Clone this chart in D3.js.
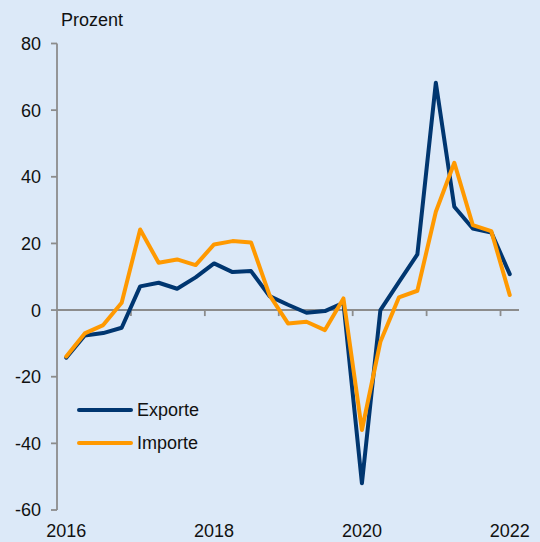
<!DOCTYPE html>
<html>
<head>
<meta charset="utf-8">
<script src="https://cdn.jsdelivr.net/npm/d3@7"></script>
<style>
    body { margin: 0; background: #dce9f8; }
    svg { display: block; font-family: "Liberation Sans", Arial, sans-serif; }
</style>
</head>
<body>
<script>
// Quartale 2016Q1 - 2022Q1
const quarters = [
    "2016Q1", "2016Q2", "2016Q3", "2016Q4",
    "2017Q1", "2017Q2", "2017Q3", "2017Q4",
    "2018Q1", "2018Q2", "2018Q3", "2018Q4",
    "2019Q1", "2019Q2", "2019Q3", "2019Q4",
    "2020Q1", "2020Q2", "2020Q3", "2020Q4",
    "2021Q1", "2021Q2", "2021Q3", "2021Q4",
    "2022Q1"
];

const exporte = [-14.3, -7.6, -6.9, -5.3, 7.1, 8.2, 6.4, 9.8, 14.0, 11.4, 11.7, 4.2, 1.6,
    -0.8, -0.3, 2.2, -52, 0, 8.4, 16.7, 68.2, 31, 24.5, 23.3, 10.8];
const importe = [-13.9, -7, -4.5, 2.2, 24.2, 14.2, 15.2, 13.5, 19.7, 20.7, 20.3, 4.5, -4,
    -3.5, -6, 3.5, -36, -9.5, 3.8, 5.8, 29.5, 44.2, 25.5, 23.7, 4.5];

const yTicks = [80, 60, 40, 20, 0, -20, -40, -60];
const xLabels = ["2016Q1", "2018Q1", "2020Q1", "2022Q1"];
const yearTicks = ["2017Q1", "2018Q1", "2019Q1", "2020Q1", "2021Q1", "2022Q1"];

const series = [
    { name: "Exporte", values: exporte, color: "#003670" },
    { name: "Importe", values: importe, color: "#ff9900" }
];

const W = 540, H = 542;
const axisColor = "#8c8c8c";

const svg = d3.select("body").append("svg")
    .attr("width", W)
    .attr("height", H);

svg.append("rect").attr("width", W).attr("height", H).attr("fill", "#dce9f8");

const x = d3.scaleBand()
    .domain(quarters)
    .range([57, 519]);

const y = d3.scaleLinear()
    .domain([-60, 80])
    .range([510, 43.5]);

// y-Achse
svg.append("line")
    .attr("x1", 57).attr("x2", 57)
    .attr("y1", y(80)).attr("y2", y(-60))
    .attr("stroke", axisColor).attr("stroke-width", 1.8);

svg.selectAll(".ytick")
    .data(yTicks)
    .enter()
    .append("line")
    .attr("x1", 51).attr("x2", 57)
    .attr("y1", d => y(d)).attr("y2", d => y(d))
    .attr("stroke", axisColor).attr("stroke-width", 1.8);

svg.selectAll(".ylabel")
    .data(yTicks)
    .enter()
    .append("text")
    .attr("x", 41)
    .attr("y", d => y(d))
    .attr("dy", "0.36em")
    .attr("text-anchor", "end")
    .attr("font-size", 18)
    .attr("fill", "#111")
    .text(d => d);

svg.append("text")
    .attr("x", 61).attr("y", 26)
    .attr("font-size", 18)
    .attr("fill", "#111")
    .text("Prozent");

// x-Achse auf der Nulllinie
svg.append("line")
    .attr("x1", 57).attr("x2", 519)
    .attr("y1", y(0)).attr("y2", y(0))
    .attr("stroke", axisColor).attr("stroke-width", 2);

svg.selectAll(".xtick")
    .data(yearTicks)
    .enter()
    .append("line")
    .attr("x1", d => x(d)).attr("x2", d => x(d))
    .attr("y1", y(0)).attr("y2", y(0) + 6)
    .attr("stroke", axisColor).attr("stroke-width", 1.8);

svg.selectAll(".xlabel")
    .data(xLabels)
    .enter()
    .append("text")
    .attr("x", d => x(d) + x.bandwidth() / 2)
    .attr("y", 537)
    .attr("text-anchor", "middle")
    .attr("font-size", 18)
    .attr("fill", "#111")
    .text(d => d.slice(0, 4));

// Linien
const line = d3.line()
    .x((d, i) => x(quarters[i]) + x.bandwidth() / 2)
    .y(d => y(d));

svg.selectAll(".series")
    .data(series)
    .enter()
    .append("path")
    .attr("d", d => line(d.values))
    .attr("fill", "none")
    .attr("stroke", d => d.color)
    .attr("stroke-width", 4)
    .attr("stroke-linejoin", "round")
    .attr("stroke-linecap", "round");

// Legende
const legend = svg.selectAll(".legend")
    .data(series)
    .enter()
    .append("g")
    .attr("transform", (d, i) => "translate(0," + (410 + i * 33) + ")");

legend.append("line")
    .attr("x1", 79).attr("x2", 131)
    .attr("stroke", d => d.color)
    .attr("stroke-width", 4)
    .attr("stroke-linecap", "round");

legend.append("text")
    .attr("x", 137)
    .attr("dy", "0.36em")
    .attr("font-size", 18)
    .attr("fill", "#111")
    .text(d => d.name);
</script>
</body>
</html>
